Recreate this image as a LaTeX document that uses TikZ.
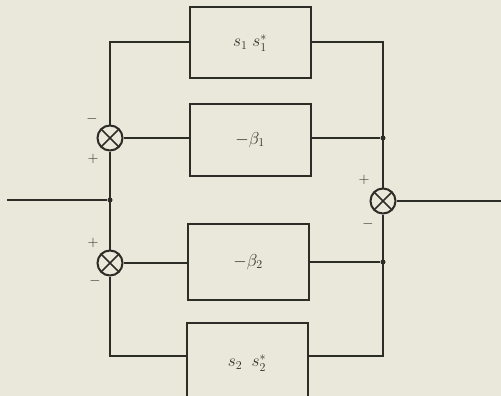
\documentclass[tikz,border=0pt]{standalone}
\definecolor{paper}{RGB}{234,232,218}
\definecolor{ink}{RGB}{45,45,40}
\begin{document}
\begin{tikzpicture}[x=1pt,y=-1pt,
  line width=2pt, draw=ink,
  blk/.style={draw, line width=2pt, minimum width=121pt, minimum height=71pt, inner sep=0pt, font=\LARGE, text=ink},
  summ/.style={circle, draw, line width=2pt, minimum size=25pt, inner sep=0pt,
    path picture={\draw[line width=1.6pt] (path picture bounding box.north west) -- (path picture bounding box.south east)
      (path picture bounding box.north east) -- (path picture bounding box.south west);}},
  jdot/.style={circle, fill=ink, inner sep=0pt, minimum size=5pt},
  sgn/.style={font=\Large, inner sep=0pt, text=ink}]
\useasboundingbox (0,0) rectangle (501,396);
\clip (0,0) rectangle (501,396);
\fill[paper] (0,0) rectangle (501,396);
% blocks
\node[blk] (b1) at (250,43) {$s_1\;s_1^{*}$};
\node[blk] (b2) at (250,140) {$-\beta_1$};
\node[blk, minimum height=76pt] (b3) at (248,262) {$-\beta_2$};
\node[blk, minimum height=80pt] (b4) at (247,363) {\raisebox{-6pt}{$s_2\;\;s_2^{*}$}};
% summing junctions
\node[summ] (s1) at (110,138) {};
\node[summ] (s2) at (110,263) {};
\node[summ] (s3) at (383,201) {};
% junction dots
\node[jdot] (jl) at (110,200) {};
\node[jdot] (jr1) at (383,138) {};
\node[jdot] (jr2) at (383,262) {};
\coordinate (in) at (7,200);
\coordinate (out) at (501,201);
% signs
\node[sgn] (p1) at (92,119) {$-$};
\node[sgn] (p2) at (93,159) {$+$};
\node[sgn] (p3) at (93,243) {$+$};
\node[sgn] (p4) at (95,281) {$-$};
\node[sgn] (p5) at (364,180) {$+$};
\node[sgn] (p6) at (368,224) {$-$};
% connectors
\draw (in) -- (jl);
\draw (s1.south) -- (jl.center) -- (s2.north);
\draw (s1.north) |- (b1.west |- 0,42);
\draw (s1.east) -- (s1.east -| b2.west);
\draw (s2.east) -- (s2.east -| b3.west);
\draw (s2.south) |- (b4.west |- 0,356);
\draw (b1.east |- 0,42) -| (jr1.center) -- (s3.north);
\draw (b2.east |- jr1) -- (jr1);
\draw (s3.south) -- (jr2.center) |- (b4.east |- 0,356);
\draw (b3.east |- jr2) -- (jr2);
\draw (s3.east) -- (out);
\end{tikzpicture}
\end{document}
